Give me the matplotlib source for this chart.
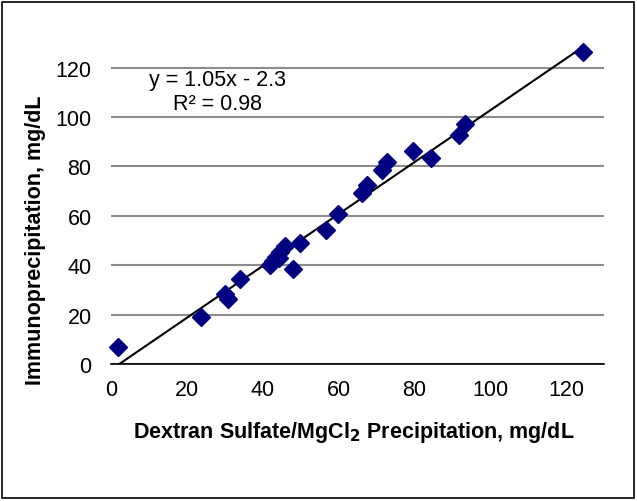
import matplotlib
matplotlib.use("Agg")
import matplotlib.pyplot as plt
import numpy as np
from matplotlib.patches import Rectangle

plt.rcParams['font.family'] = ['Liberation Sans', 'DejaVu Sans']

x_dextran = [1.8, 23.8, 30.1, 30.9, 33.9, 41.9, 42.6, 43.6, 44.3, 44.6, 45.8,
             48.0, 49.9, 56.6, 60.0, 66.3, 67.4, 71.6, 72.9, 79.6, 84.5, 91.9,
             93.3, 124.5]
y_immuno = [7.0, 19.1, 28.5, 26.3, 34.4, 40.2, 41.7, 43.2, 42.8, 45.5, 47.6,
            38.3, 49.2, 54.1, 60.6, 69.3, 72.3, 78.6, 81.6, 86.2, 83.4, 92.8,
            97.0, 126.5]
slope, intercept = 1.05, -2.3
eq_label = "y = 1.05x - 2.3"
r2_label = "R² = 0.98"
x_ticks = [0, 20, 40, 60, 80, 100, 120]
y_ticks = [0, 20, 40, 60, 80, 100, 120]

fig = plt.figure(figsize=(6.37, 5.02), dpi=100)
ax = fig.add_axes([0.1743, 0.2729, 0.948 - 0.1743, 0.9124 - 0.2729])

ax.set_xlim(0, 130)
ax.set_ylim(0, 130)
ax.set_xticks(x_ticks)
ax.set_yticks(y_ticks)
ax.tick_params(axis='both', length=0, labelsize=15.5)
ax.tick_params(axis='x', pad=11)
ax.tick_params(axis='y', pad=14)

ax.yaxis.grid(True, color='#8c8c8c', lw=1.5)
ax.set_axisbelow(True)
for s in ['left', 'right', 'top']:
    ax.spines[s].set_visible(False)
ax.spines['bottom'].set_color('black')
ax.spines['bottom'].set_linewidth(1.2)

xl = np.array([min(x_dextran), max(x_dextran)])
ax.plot(xl, slope * xl + intercept, color='black', lw=1.5, zorder=2)
ax.plot(x_dextran, y_immuno, linestyle='none', marker='D', ms=9,
        color='#000080', mec='#000080', zorder=3, clip_on=False)

ax.text(28, 115.1, eq_label, ha='center', va='center', fontsize=15.5)
ax.text(28, 105.4, r2_label, ha='center', va='center', fontsize=15.5)

fig.text(354 / 637, 1 - 433 / 502,
         r"Dextran Sulfate/MgCl$_\mathbf{2}$ Precipitation, mg/dL",
         ha='center', va='center', fontsize=15.5, fontweight='bold')
fig.text(36 / 637, 1 - 240 / 502, "Immunoprecipitation, mg/dL",
         ha='center', va='center', rotation=90, fontsize=15.5, fontweight='bold')

fig.patches.append(Rectangle((2 / 637, 3 / 502), 632 / 637, 496 / 502,
                             transform=fig.transFigure, fill=False,
                             edgecolor='black', lw=1.2))

fig.savefig("out.png", dpi=100)
